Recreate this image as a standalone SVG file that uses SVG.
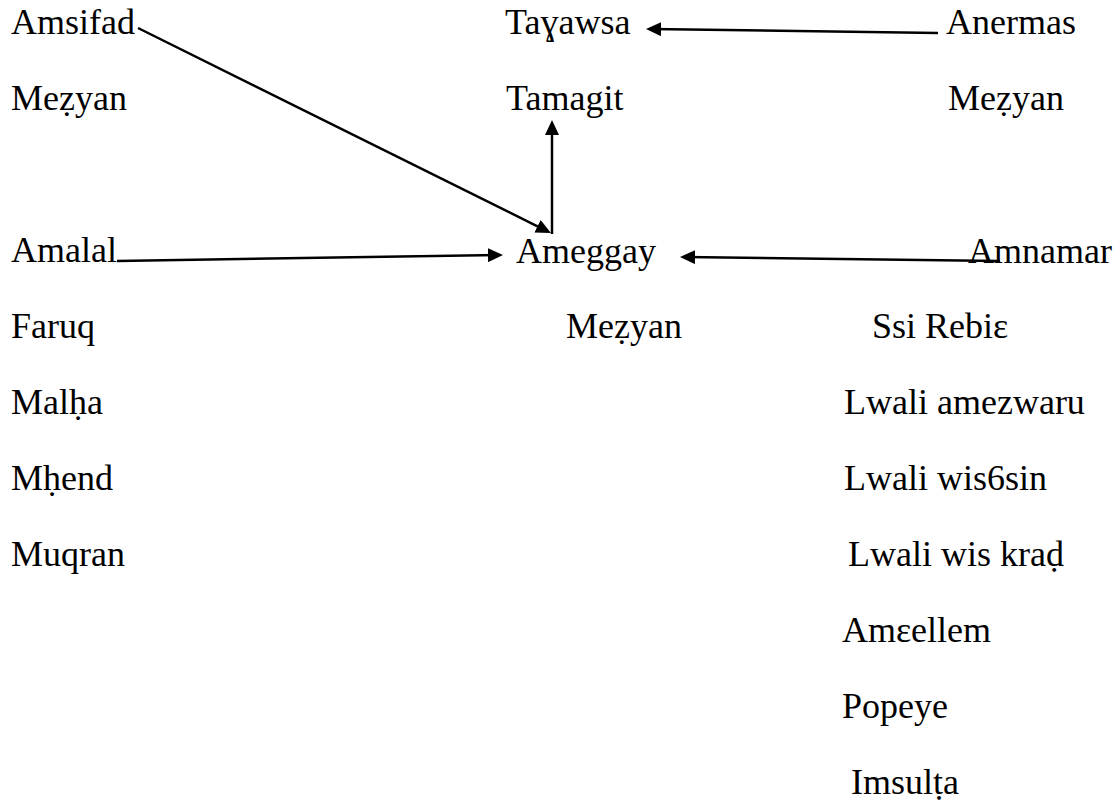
<svg xmlns="http://www.w3.org/2000/svg" width="1118" height="801" viewBox="0 0 1118 801">
<style>
text{font-family:"Liberation Serif","Times New Roman",serif;font-size:36px;fill:#000}
.c{stroke:#000;stroke-width:2.5;fill:none;marker-end:url(#ah)}
</style>
<defs>
<marker id="ah" markerUnits="userSpaceOnUse" markerWidth="16" markerHeight="14" refX="10" refY="7" orient="auto">
<path d="M0,0 L15,7 L0,14 z" fill="#000"/>
</marker>
</defs>
<rect width="1118" height="801" fill="#fff"/>
<g id="connectors">
<line class="c" x1="138" y1="28" x2="546.5" y2="230.8"/>
<line class="c" x1="552" y1="234" x2="552" y2="125"/>
<line class="c" x1="938" y1="33" x2="651" y2="29"/>
<line class="c" x1="117" y1="261" x2="498" y2="255"/>
<line class="c" x1="1000" y1="261" x2="685" y2="257"/>
</g>
<g id="amsifad"><text x="11" y="34">Amsifad</text><text x="11" y="110">Meẓyan</text></g>
<g id="tayawsa"><text x="505" y="34">Taɣawsa</text></g>
<g id="tamagit"><text x="506" y="110">Tamagit</text></g>
<g id="anermas"><text x="946" y="34">Anermas</text><text x="948" y="110">Meẓyan</text></g>
<g id="amalal"><text x="11" y="262">Amalal</text><text x="11" y="338">Faruq</text><text x="11" y="414">Malḥa</text><text x="11" y="490">Mḥend</text><text x="11" y="566">Muqran</text></g>
<g id="ameggay"><text x="516" y="263">Ameggay</text><text x="566" y="338">Meẓyan</text></g>
<g id="amnamar"><text x="968" y="263">Amnamar</text><text x="872" y="338">Ssi Rebiɛ</text><text x="844" y="414">Lwali amezwaru</text><text x="844" y="490">Lwali wis6sin</text><text x="848" y="566">Lwali wis kraḍ</text><text x="842" y="642">Amɛellem</text><text x="842" y="718">Popeye</text><text x="851" y="794">Imsulṭa</text></g>
</svg>
